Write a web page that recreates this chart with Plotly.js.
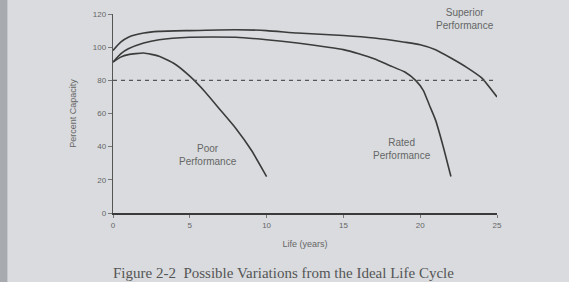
<!DOCTYPE html>
<html>
<head>
<meta charset="utf-8">
<script src="https://cdn.plot.ly/plotly-3.0.1.min.js"></script>
<style>html,body{margin:0;padding:0;background:#d9dbde;}#chart{width:569px;height:282px;}</style>
</head>
<body>
<div id="chart"></div>
<script>
// Data
const superiorYears = [0, 0.5, 1, 2, 3, 5, 8, 10, 12, 15, 17, 19, 20, 21, 22, 23, 24, 25];
const superiorCap   = [98, 103, 106, 108.5, 109.5, 110, 110.5, 110, 108.5, 107, 105.5, 103, 101.5, 98.5, 93.5, 88, 81.5, 70];
const ratedYears = [0, 0.5, 1, 2, 3, 5, 8, 10, 12, 14, 15, 16, 17, 18, 19, 19.7, 20.2, 20.6, 21, 21.5, 22];
const ratedCap   = [91, 96, 99, 102.5, 104.5, 106, 106, 104.5, 102.5, 100, 98.5, 96, 93, 89, 85, 80, 74, 65, 56, 40, 22];
const poorYears = [0, 0.5, 1, 2, 3, 4, 5, 6, 7, 8, 9, 10];
const poorCap   = [91, 94, 95.5, 96.5, 94.5, 90, 82.5, 73, 62, 51, 38, 22];
const thresholdYears = [0, 25];
const thresholdCap = [80, 80];
const xTicks = [0, 5, 10, 15, 20, 25];
const yTicks = [0, 20, 40, 60, 80, 100, 120];
const labels = [
  {x: 22.9, y: 117, text: "Superior<br>Performance"},
  {x: 6.2, y: 35, text: "Poor<br>Performance"},
  {x: 18.8, y: 38.5, text: "Rated<br>Performance"}
];

const lineStyle = {color: '#3b3b3b', width: 1.6, shape: 'spline', smoothing: 0.5};
const traces = [
  {x: superiorYears, y: superiorCap, mode: 'lines', line: lineStyle, hoverinfo: 'skip'},
  {x: ratedYears, y: ratedCap, mode: 'lines', line: lineStyle, hoverinfo: 'skip'},
  {x: poorYears, y: poorCap, mode: 'lines', line: lineStyle, hoverinfo: 'skip'},
  {x: thresholdYears, y: thresholdCap, mode: 'lines', line: {color: '#555', width: 1.3, dash: '4px,4px'}, hoverinfo: 'skip'}
];

const layout = {
  width: 569, height: 282,
  margin: {l: 113, r: 72, t: 14, b: 69},
  paper_bgcolor: '#d9dbde',
  plot_bgcolor: 'rgba(0,0,0,0)',
  showlegend: false,
  font: {family: 'Liberation Sans, Arial, sans-serif', size: 9, color: '#666'},
  xaxis: {
    range: [0, 25], tickvals: xTicks, ticktext: xTicks.map(String),
    showgrid: false, zeroline: false, showline: true, linecolor: '#3a3a3a', linewidth: 2,
    ticks: 'outside', ticklen: 3, tickcolor: '#777', tickfont: {size: 8, color: '#666'},
    title: {text: 'Life (years)', font: {size: 9, color: '#666'}, standoff: 12}
  },
  yaxis: {
    range: [0, 120], tickvals: yTicks, ticktext: yTicks.map(String),
    showgrid: false, zeroline: false, showline: true, linecolor: '#555', linewidth: 1.3,
    ticks: 'outside', ticklen: 4, tickcolor: '#777', tickfont: {size: 8, color: '#666'},
    title: {text: 'Percent Capacity', font: {size: 9, color: '#666'}, standoff: 14}
  },
  shapes: [
    {type: 'rect', xref: 'paper', yref: 'paper', x0: -0.295, x1: -0.275, y0: -0.4, y1: 1.1, fillcolor: '#a7abb0', line: {width: 0}, layer: 'below'}
  ],
  annotations: labels.map(l => ({x: l.x, y: l.y, xref: 'x', yref: 'y', text: l.text, showarrow: false, font: {size: 10, color: '#666'}, align: 'center'})).concat([
    {xref: 'paper', yref: 'paper', x: 0.445, y: -0.30, yanchor: 'middle', xanchor: 'center', showarrow: false,
     text: 'Figure 2-2  Possible Variations from the Ideal Life Cycle',
     font: {family: 'Liberation Serif, Times New Roman, serif', size: 15, color: '#555'}}
  ])
};

Plotly.newPlot('chart', traces, layout, {displayModeBar: false, staticPlot: true});
</script>
</body>
</html>
